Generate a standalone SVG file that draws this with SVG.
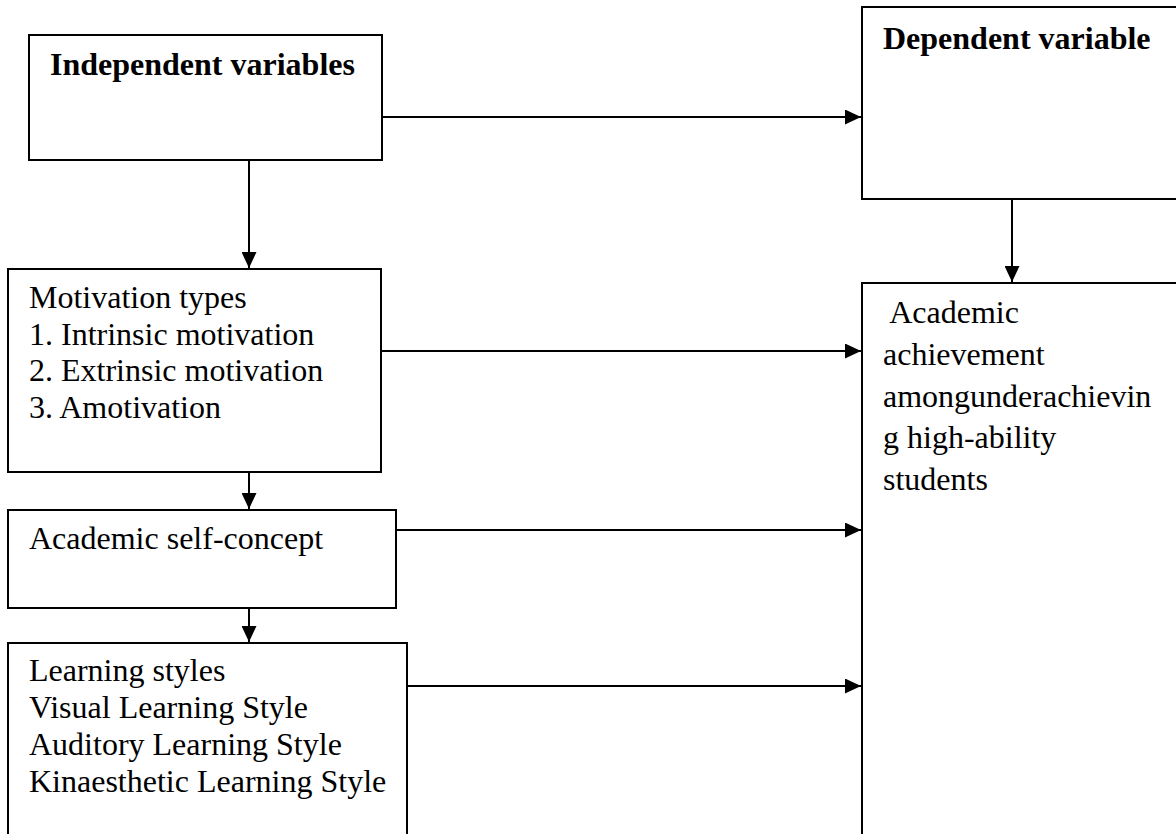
<svg xmlns="http://www.w3.org/2000/svg" width="1176" height="834" viewBox="0 0 1176 834">
<style>
.box{fill:#fff;stroke:#000;stroke-width:2}
.t{font-family:"Liberation Serif","Times New Roman",serif;font-size:32px;fill:#000}
.b{font-weight:bold}
.c{stroke:#000;stroke-width:2;fill:none;marker-end:url(#ah)}
</style>
<defs>
<marker id="ah" markerUnits="userSpaceOnUse" markerWidth="16" markerHeight="15" refX="16" refY="7.5" orient="auto">
<path d="M0,0 L16,7.5 L0,15 Z" fill="#000"/>
</marker>
</defs>
<rect width="1176" height="834" fill="#fff"/>
<g id="independent">
<rect class="box" x="29" y="35" width="353" height="125"/>
<text class="t b" x="50" y="75">Independent variables</text>
</g>
<g id="dependent">
<rect class="box" x="862" y="7" width="330" height="192"/>
<text class="t b" x="883" y="49">Dependent variable</text>
</g>
<g id="motivation">
<rect class="box" x="8" y="269" width="373" height="203"/>
<text class="t" x="29" y="308">Motivation types</text>
<text class="t" x="29" y="344.5">1. Intrinsic motivation</text>
<text class="t" x="29" y="381">2. Extrinsic motivation</text>
<text class="t" x="29" y="417.5">3. Amotivation</text>
</g>
<g id="selfconcept">
<rect class="box" x="8" y="510" width="388" height="98"/>
<text class="t" x="29" y="549">Academic self-concept</text>
</g>
<g id="learning">
<rect class="box" x="8" y="643" width="399" height="220"/>
<text class="t" x="29" y="681">Learning styles</text>
<text class="t" x="29" y="717.5">Visual Learning Style</text>
<text class="t" x="29" y="754.5">Auditory Learning Style</text>
<text class="t" x="29" y="791.5">Kinaesthetic Learning Style</text>
</g>
<g id="achievement">
<rect class="box" x="862" y="283" width="330" height="580"/>
<text class="t" x="883" y="323" xml:space="preserve"> Academic</text>
<text class="t" x="883" y="365">achievement</text>
<text class="t" x="883" y="406.5">amongunderachievin</text>
<text class="t" x="883" y="448">g high-ability</text>
<text class="t" x="883" y="490">students</text>
</g>
<g id="connectors">
<line class="c" x1="382" y1="117" x2="861" y2="117"/>
<line class="c" x1="249" y1="160" x2="249" y2="268"/>
<line class="c" x1="1012" y1="199" x2="1012" y2="282"/>
<line class="c" x1="381" y1="351" x2="861" y2="351"/>
<line class="c" x1="249" y1="472" x2="249" y2="509"/>
<line class="c" x1="396" y1="530" x2="861" y2="530"/>
<line class="c" x1="249" y1="608" x2="249" y2="642"/>
<line class="c" x1="407" y1="686" x2="861" y2="686"/>
</g>
</svg>
